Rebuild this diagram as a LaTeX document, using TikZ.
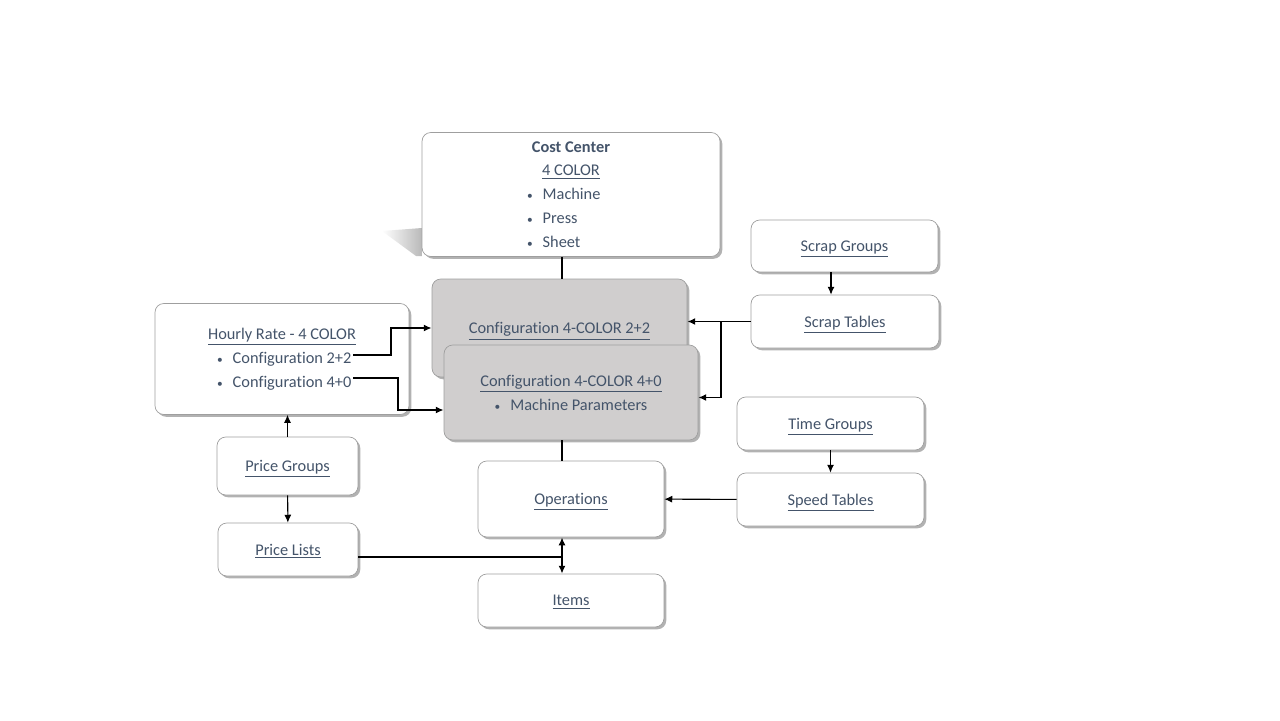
\documentclass[tikz,border=0pt]{standalone}
\usepackage{fontspec}
\setmainfont{Carlito}[Ligatures=NoCommon]
\usepackage{tikz}
\usetikzlibrary{arrows.meta,shadows}

\definecolor{txtblue}{HTML}{44546A}
\definecolor{cfggray}{HTML}{D0CECE}
\newcommand{\ulabel}[1]{\underline{#1}}
\newcommand{\sbul}{{\fontsize{6.5}{6.5}\selectfont\textbullet}}
\newcommand{\bitem}[2]{\makebox[#1][l]{\sbul\hspace{0.2cm}#2}}

\tikzset{
	box/.style={draw=gray!75, rounded corners=5pt, fill=white, text=txtblue, align=center,
		font=\fontsize{9.3}{13.6}\selectfont,
		drop shadow={shadow xshift=1.3pt, shadow yshift=-1.3pt, opacity=0.3, fill=black}},
	onebox/.style={box, text depth=0pt},
	cfgbox/.style={box, fill=cfggray},
	lnk/.style={line width=1.1pt},
	thinlnk/.style={line width=0.6pt},
	>={Latex[length=4.5pt,width=4pt]}
}

\begin{document}
\begin{tikzpicture}[x=0.02cm,y=-0.02cm]
	\useasboundingbox[fill=white] (0,0) rectangle (1280,720);
	\shade[left color=white, right color=gray!55] (382,231) -- (422,228) -- (422,256) -- (416,256) -- cycle;
	\node[box, minimum width=5.96cm, minimum height=2.48cm] (cc) at (571,194.5)
		{\textbf{Cost Center}\\\ulabel{4 COLOR}\\\bitem{1.76cm}{Machine}\\\bitem{1.76cm}{Press}\\\bitem{1.76cm}{Sheet}};
	\node[cfgbox, text depth=0pt, minimum width=5.1cm, minimum height=1.96cm] (cfgA) at (559.5,328) {\ulabel{Configuration 4-COLOR 2+2}};
	\node[cfgbox, minimum width=5.08cm, minimum height=1.9cm] (cfgB) at (571,392.5)
		{\ulabel{Configuration 4-COLOR 4+0}\\\sbul\hspace{0.2cm}Machine Parameters};
	\node[box, minimum width=5.08cm, minimum height=2.22cm] (hr) at (282,359)
		{\ulabel{Hourly Rate - 4 COLOR}\\\bitem{2.6cm}{Configuration 2+2}\\\bitem{2.6cm}{Configuration 4+0}};
	\node[onebox, minimum width=3.74cm, minimum height=1.04cm] (sg) at (844.5,246) {\ulabel{Scrap Groups}};
	\node[onebox, minimum width=3.76cm, minimum height=1.06cm] (st) at (845,321.5) {\ulabel{Scrap Tables}};
	\node[onebox, minimum width=3.74cm, minimum height=1.06cm] (tg) at (830.5,423.5) {\ulabel{Time Groups}};
	\node[onebox, minimum width=3.74cm, minimum height=1.06cm] (spt) at (830.5,499.5) {\ulabel{Speed Tables}};
	\node[onebox, minimum width=2.82cm, minimum height=1.16cm] (pg) at (287.5,466) {\ulabel{Price Groups}};
	\node[onebox, minimum width=2.8cm, minimum height=1.06cm] (pl) at (288,549.5) {\ulabel{Price Lists}};
	\node[onebox, minimum width=3.72cm, minimum height=1.52cm] (op) at (571,499) {\ulabel{Operations}};
	\node[onebox, minimum width=3.72cm, minimum height=1.06cm] (it) at (571,600.5) {\ulabel{Items}};
	\coordinate (hrA) at (353,355);
	\coordinate (hrB) at (353,378);
	\coordinate (stj) at (721,321.5);
	\coordinate (opb) at ([xshift=-0.18cm]op.south);
	\coordinate (itt) at ([xshift=-0.18cm]it.north);
	\draw[lnk] ([xshift=-0.18cm]cc.south) -- ([xshift=-0.18cm]cc.south |- cfgA.north);
	\draw[lnk] ([xshift=-0.18cm]cfgB.south) -- ([xshift=-0.18cm]cfgB.south |- op.north);
	\draw[lnk,->] (hrA) -- ++(38,0) |- (cfgA.west);
	\draw[lnk,->] (hrB) -- ++(45,0) |- ([yshift=-0.35cm]cfgB.west);
	\draw[lnk,->] (st.west) -- (st.west -| cfgA.east);
	\draw[lnk,->] (stj) |- ([yshift=-0.1cm]cfgB.east);
	\draw[thinlnk,->] ([xshift=-0.27cm]sg.south) -- ([xshift=-0.27cm]sg.south |- st.north);
	\draw[thinlnk,->] (tg) -- (spt);
	\draw[thinlnk,->] (spt) -- (op);
	\draw[thinlnk,->] (pg) -- (pg |- hr.south);
	\draw[thinlnk,->] (pg) -- (pl);
	\draw[lnk] ([yshift=-0.15cm]pl.east) -- ([yshift=-0.15cm]pl.east -| opb);
	\draw[lnk,<->] (opb) -- (itt);
\end{tikzpicture}
\end{document}
